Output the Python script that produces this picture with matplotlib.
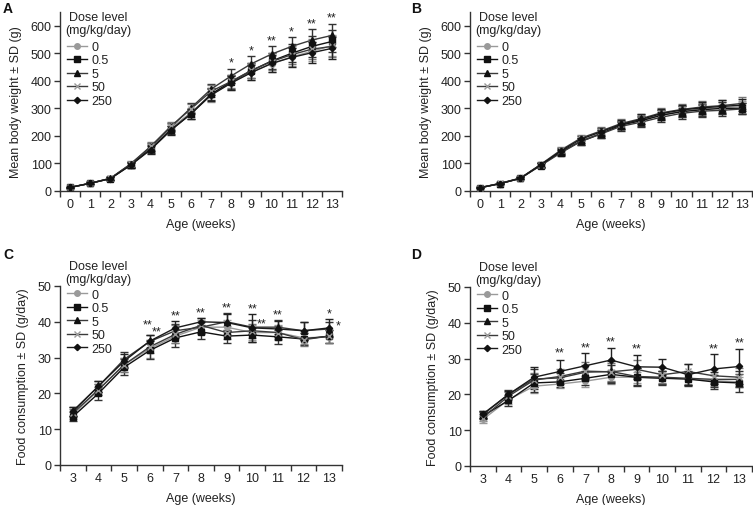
import numpy as np
import matplotlib
matplotlib.use("Agg")
import matplotlib.pyplot as plt
from matplotlib.ticker import FixedLocator
from matplotlib.lines import Line2D

plt.rcParams['font.family'] = ['Liberation Sans', 'DejaVu Sans']
plt.rcParams['font.size'] = 9

doses = ['0', '0.5', '5', '50', '250']

# ---------- Panel A: male body weight ----------
weeks_bw = list(range(0, 14))
A_mean = {
    '0':   [13, 28, 45, 95, 155, 228, 285, 350, 393, 432, 462, 487, 507, 528],
    '0.5': [13, 28, 45, 95, 152, 222, 280, 352, 397, 437, 472, 500, 525, 543],
    '5':   [13, 28, 46, 97, 160, 232, 302, 370, 418, 462, 497, 525, 548, 565],
    '50':  [13, 28, 46, 98, 162, 235, 298, 362, 398, 438, 470, 495, 515, 525],
    '250': [13, 28, 45, 93, 150, 220, 280, 348, 392, 430, 463, 485, 502, 518],
}
A_sd = {
    '0':   [2, 3, 5, 10, 14, 15, 18, 25, 25, 28, 30, 33, 35, 38],
    '0.5': [2, 3, 5, 10, 15, 15, 18, 22, 26, 28, 30, 33, 38, 40],
    '5':   [2, 3, 5, 10, 15, 15, 18, 20, 25, 28, 30, 35, 40, 42],
    '50':  [2, 3, 5, 10, 15, 15, 17, 22, 25, 28, 30, 33, 36, 38],
    '250': [2, 3, 5, 10, 15, 15, 18, 22, 25, 28, 30, 33, 38, 40],
}
A_sig_x = [8, 9, 10, 11, 12, 13]
A_sig_y = [466, 510, 548, 580, 608, 632]
A_sig_t = ['*', '*', '**', '*', '**', '**']

# ---------- Panel B: female body weight ----------
B_mean = {
    '0':   [12, 27, 46, 93, 140, 182, 210, 238, 258, 276, 290, 298, 303, 306],
    '0.5': [12, 27, 46, 95, 142, 180, 208, 240, 255, 275, 288, 295, 300, 300],
    '5':   [12, 27, 46, 92, 138, 180, 207, 235, 250, 268, 282, 290, 293, 298],
    '50':  [12, 28, 47, 96, 148, 192, 218, 245, 263, 284, 296, 305, 310, 318],
    '250': [12, 27, 46, 94, 145, 188, 215, 242, 260, 281, 294, 302, 307, 312],
}
B_sd = {
    '0':   [2, 3, 4, 8, 10, 12, 14, 18, 18, 18, 20, 22, 22, 22],
    '0.5': [2, 3, 4, 8, 10, 12, 14, 16, 18, 18, 20, 22, 22, 20],
    '5':   [2, 3, 4, 8, 10, 12, 14, 16, 18, 18, 20, 22, 20, 20],
    '50':  [2, 3, 4, 8, 10, 12, 14, 16, 18, 18, 20, 22, 22, 22],
    '250': [2, 3, 4, 8, 10, 12, 14, 16, 18, 18, 20, 22, 22, 22],
}

# ---------- Panel C: male food consumption ----------
weeks_fc = list(range(3, 14))
C_mean = {
    '0':   [14.0, 21.0, 28.0, 32.5, 36.0, 38.5, 38.5, 37.0, 37.0, 35.5, 35.8],
    '0.5': [13.5, 20.0, 27.3, 32.0, 35.5, 37.2, 36.0, 36.3, 35.8, 35.2, 36.0],
    '5':   [15.0, 22.0, 29.5, 34.5, 37.5, 38.5, 40.0, 38.5, 38.5, 37.5, 38.0],
    '50':  [14.5, 21.0, 28.0, 33.0, 36.5, 39.0, 37.0, 37.5, 37.0, 35.0, 36.0],
    '250': [15.0, 22.0, 29.0, 34.6, 38.3, 40.0, 39.8, 38.3, 38.0, 37.5, 38.3],
}
C_sd = {
    '0':   [1.2, 1.5, 2.0, 2.5, 2.0, 2.0, 2.0, 2.2, 2.0, 1.8, 1.8],
    '0.5': [1.2, 1.8, 2.2, 2.5, 2.5, 2.0, 1.8, 2.0, 2.0, 1.8, 1.8],
    '5':   [1.2, 1.5, 2.0, 1.8, 2.0, 1.5, 2.5, 2.0, 2.0, 2.5, 2.0],
    '50':  [1.2, 1.5, 2.0, 1.8, 2.5, 2.0, 1.8, 2.0, 1.8, 1.8, 1.8],
    '250': [1.2, 1.5, 2.0, 1.8, 2.0, 1.2, 2.5, 3.9, 2.2, 2.5, 2.5],
}
C_sig_x = [5.92, 6.26, 7.02, 8.0, 9.0, 10.02, 10.36, 11.0, 13.0, 13.37]
C_sig_y = [39.2, 37.3, 41.8, 42.6, 44.0, 43.7, 39.6, 42.0, 42.4, 39.1]
C_sig_t = ['**', '**', '**', '**', '**', '**', '**', '**', '*', '*']

# ---------- Panel D: female food consumption ----------
D_mean = {
    '0':   [13.0, 18.5, 22.3, 22.9, 23.7, 24.8, 24.8, 24.6, 24.3, 23.8, 23.5],
    '0.5': [14.0, 18.3, 23.2, 23.5, 24.5, 25.6, 24.8, 24.5, 24.3, 23.5, 23.2],
    '5':   [14.3, 20.0, 24.3, 24.6, 26.2, 26.4, 25.0, 24.8, 24.5, 24.2, 24.2],
    '50':  [13.5, 19.5, 24.0, 25.0, 26.5, 26.3, 27.0, 25.5, 26.4, 25.2, 24.8],
    '250': [14.5, 20.0, 24.8, 26.4, 28.0, 29.6, 27.7, 27.6, 25.5, 27.1, 27.8],
}
D_sd = {
    '0':   [1.0, 1.2, 2.0, 1.2, 1.5, 2.0, 1.5, 1.8, 1.5, 1.5, 1.5],
    '0.5': [1.0, 1.5, 2.5, 1.5, 2.0, 2.5, 2.5, 2.0, 2.0, 2.0, 2.5],
    '5':   [1.0, 1.2, 2.8, 1.5, 2.0, 3.0, 2.5, 1.8, 2.0, 2.0, 2.2],
    '50':  [1.0, 1.2, 2.0, 2.0, 2.5, 2.5, 2.5, 2.2, 2.0, 2.0, 2.5],
    '250': [1.0, 1.0, 2.8, 3.2, 3.5, 3.4, 3.4, 2.2, 3.0, 4.1, 4.9],
}
D_sig_x = [6, 7, 8, 9, 12, 13]
D_sig_y = [31.8, 33.0, 34.8, 32.8, 32.8, 34.6]
D_sig_t = ['**', '**', '**', '**', '**', '**']

# ---------- styles ----------
line_col = {'0': '#9a9a9a', '0.5': '#111111', '5': '#3a3a3a', '50': '#3a3a3a', '250': '#1a1a1a'}
mk_col = {'0': '#9a9a9a', '0.5': '#111111', '5': '#111111', '50': '#9a9a9a', '250': '#111111'}
err_col = {'0': '#9a9a9a', '0.5': '#333333', '5': '#333333', '50': '#777777', '250': '#222222'}
markers = {'0': 'o', '0.5': 's', '5': '^', '50': 'x', '250': 'D'}
msizes = {'0': 4, '0.5': 4, '5': 4.5, '50': 5, '250': 3.2}

fig = plt.figure(figsize=(7.53, 5.06), dpi=100)
W, H = 753.0, 506.0


def make_ax(left, right, bottom_px, top_px):
    return fig.add_axes([left / W, 1 - bottom_px / H, (right - left) / W, (bottom_px - top_px) / H])


def draw(ax, x, means, sds, xlim, ylim, yticks, ylabel, sig_x, sig_y, sig_t, title_y, leg_y):
    for d in doses:
        ax.errorbar(x, means[d], yerr=sds[d], color=line_col[d], ecolor=err_col[d],
                    elinewidth=1.0, capsize=3, capthick=1.0, lw=1.0,
                    marker=markers[d], ms=msizes[d], mfc=mk_col[d], mec=mk_col[d],
                    mew=1.0, zorder=3)
    for sx, sy, st in zip(sig_x, sig_y, sig_t):
        ax.text(sx, sy, st, ha='center', va='center', fontsize=9, color='#222222')
    ax.set_xlim(*xlim)
    ax.set_ylim(*ylim)
    ax.set_yticks(yticks)
    ax.xaxis.set_major_locator(FixedLocator(x))
    ax.xaxis.set_minor_locator(FixedLocator(np.arange(xlim[0], xlim[1] + 0.01, 1.0)))
    ax.tick_params(axis='x', which='major', length=0, pad=5, colors='#222222')
    ax.tick_params(axis='x', which='minor', length=4, width=1, color='#333333', direction='out')
    ax.tick_params(axis='y', length=4, width=1, color='#333333', pad=2, colors='#222222')
    for s in ['top', 'right']:
        ax.spines[s].set_visible(False)
    for s in ['left', 'bottom']:
        ax.spines[s].set_color('#333333')
        ax.spines[s].set_linewidth(1.0)
    ax.set_xlabel('Age (weeks)', labelpad=6, color='#222222')
    ax.set_ylabel(ylabel, labelpad=6, color='#222222')
    # legend title
    ax.text(0.135, title_y, 'Dose level\n(mg/kg/day)', transform=ax.transAxes,
            ha='center', va='center', multialignment='center', linespacing=1.1,
            fontsize=9, color='#222222')
    handles = [Line2D([], [], color=line_col[d], lw=1.0, marker=markers[d], ms=msizes[d],
                      mfc=mk_col[d], mec=mk_col[d], mew=1.0) for d in doses]
    leg = ax.legend(handles, doses, loc='upper left', bbox_to_anchor=(0.024, leg_y),
                    frameon=False, fontsize=9,
                    handlelength=1.6, handletextpad=0.35, labelspacing=0.12,
                    borderpad=0, borderaxespad=0)
    for t in leg.get_texts():
        t.set_color('#222222')


axA = make_ax(60, 342, 192, 13)
draw(axA, weeks_bw, A_mean, A_sd, (-0.5, 13.5), (0, 650), range(0, 601, 100),
     'Mean body weight ± SD (g)', A_sig_x, A_sig_y, A_sig_t, 0.935, 0.838)
axB = make_ax(470, 752, 192, 13)
draw(axB, weeks_bw, B_mean, B_sd, (-0.5, 13.5), (0, 650), range(0, 601, 100),
     'Mean body weight ± SD (g)', [], [], [], 0.935, 0.838)
axC = make_ax(60, 342, 466, 287)
draw(axC, weeks_fc, C_mean, C_sd, (2.5, 13.5), (0, 50), range(0, 51, 10),
     'Food consumption ± SD (g/day)', C_sig_x, C_sig_y, C_sig_t, 1.075, 0.986)
axD = make_ax(470, 752, 467, 288)
draw(axD, weeks_fc, D_mean, D_sd, (2.5, 13.5), (0, 50), range(0, 51, 10),
     'Food consumption ± SD (g/day)', D_sig_x, D_sig_y, D_sig_t, 1.075, 0.986)

for lbl, xp, yp in [('A', 3, 2), ('B', 411, 2), ('C', 3, 248), ('D', 411, 248)]:
    fig.text(xp / W, 1 - yp / H, lbl, ha='left', va='top', fontsize=10, fontweight='bold', color='#111111')

fig.savefig('out.png', dpi=100)
